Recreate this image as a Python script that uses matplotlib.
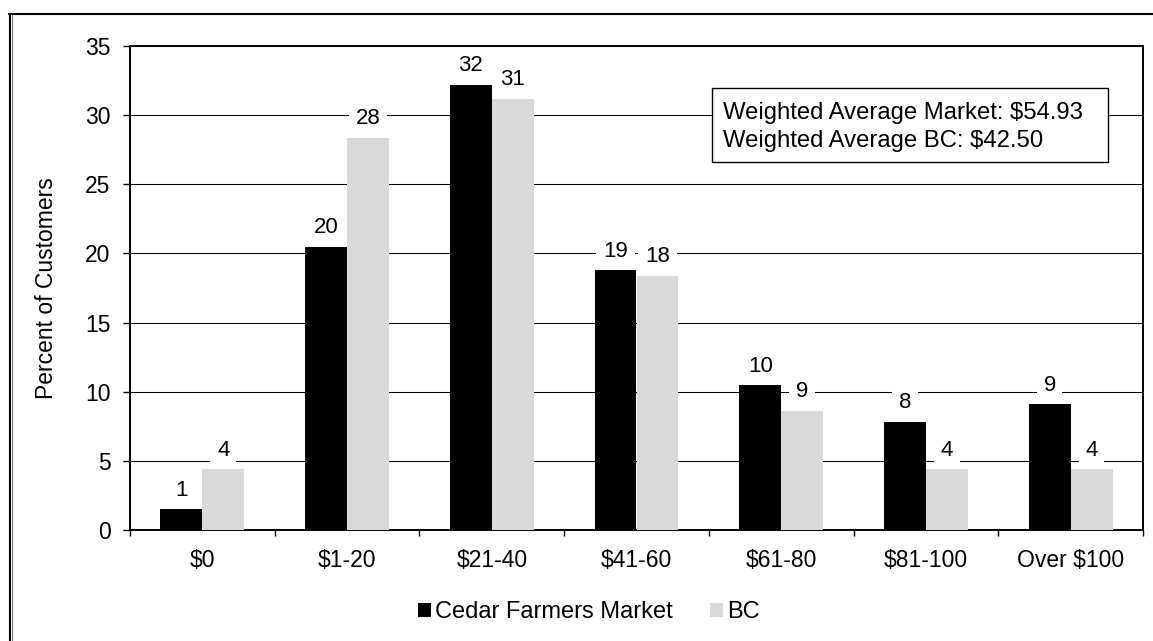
import matplotlib
matplotlib.use("Agg")
import matplotlib.pyplot as plt
from matplotlib.lines import Line2D
from matplotlib.patches import Rectangle
import numpy as np

plt.rcParams['font.family'] = ['Liberation Sans', 'DejaVu Sans']

categories = ['$0', '$1-20', '$21-40', '$41-60', '$61-80', '$81-100', 'Over $100']
cedar = [1.49, 20.49, 32.2, 18.8, 10.49, 7.83, 9.09]
bc = [4.41, 28.37, 31.2, 18.4, 8.63, 4.41, 4.41]
series_names = ['Cedar Farmers Market', 'BC']
yticks = [0, 5, 10, 15, 20, 25, 30, 35]
summary_lines = ['Weighted Average Market: $54.93', 'Weighted Average BC: $42.50']

W, H = 1153, 641
fig = plt.figure(figsize=(W / 100, H / 100), dpi=100)

# plot area in pixel terms
L, R, T, B = 130, 1143, 46, 530
ax = fig.add_axes([L / W, 1 - B / H, (R - L) / W, (B - T) / H])

fs = 16
x = np.arange(len(categories))
bw = 0.29
b1 = ax.bar(x - bw / 2, cedar, bw, color='black', label=series_names[0], zorder=3)
b2 = ax.bar(x + bw / 2, bc, bw, color='#d9d9d9', label=series_names[1], zorder=3)

ax.set_xlim(-0.5, len(categories) - 0.5)
ax.set_ylim(0, 35)
ax.set_yticks(yticks)
ax.set_yticklabels([str(t) for t in yticks], fontsize=16.5)
ax.yaxis.grid(True, color='black', linewidth=0.75, zorder=1)
ax.set_axisbelow(True)

# category separators as major ticks, labels on minor ticks
ax.set_xticks(np.arange(-0.5, len(categories), 1.0))
ax.set_xticklabels([])
ax.set_xticks(x, minor=True)
ax.set_xticklabels(categories, minor=True, fontsize=16.5)
ax.tick_params(axis='x', which='major', direction='out', length=4.5, width=1)
ax.tick_params(axis='x', which='minor', length=0, pad=14)
ax.tick_params(axis='y', direction='out', length=5, width=1, pad=9)

for s in ax.spines.values():
    s.set_linewidth(1.4)
    s.set_color('black')

# value labels
for bars, vals in ((b1, cedar), (b2, bc)):
    for rect, v in zip(bars, vals):
        ax.annotate(f"{v:.0f}", (rect.get_x() + rect.get_width() / 2, v),
                    xytext=(0, 6), textcoords='offset points',
                    ha='center', va='bottom', fontsize=fs, zorder=6,
                    annotation_clip=False,
                    bbox=dict(boxstyle='square,pad=0.3', fc='white', ec='none'))

fig.text(47 / W, 1 - 288 / H, 'Percent of Customers', rotation=90,
         ha='center', va='center', fontsize=16.5)

# summary box
def ax_frac(px, py):
    return (px - L) / (R - L), (B - py) / (B - T)

bx0, by1 = ax_frac(712, 162)
bx1, by0 = ax_frac(1108, 88)
ax.add_patch(Rectangle((bx0, by1), bx1 - bx0, by0 - by1, transform=ax.transAxes,
                       fc='white', ec='black', lw=1.0, zorder=5))
for line, py in zip(summary_lines, (118.5, 146.5)):
    tx, ty = ax_frac(723, py)
    ax.text(tx, ty, line, transform=ax.transAxes, ha='left', va='baseline',
            fontsize=17.2, zorder=6)

leg = fig.legend(handles=[b1, b2], labels=series_names, loc='center',
                 bbox_to_anchor=(589 / W, 1 - 612 / H), ncol=2, frameon=False,
                 fontsize=17, handlelength=0.55, handleheight=0.55,
                 handletextpad=0.15, columnspacing=1.6)

# outer frame (top and left edges)
fig.add_artist(Line2D([9 / W, 1], [1 - 13.7 / H] * 2, color='black', lw=1.5))
fig.add_artist(Line2D([9.5 / W] * 2, [0, 1 - 13.7 / H], color='black', lw=1.5))
fig.add_artist(Line2D([12 / W] * 2, [0, 1 - 15 / H], color='#777777', lw=0.8))

fig.savefig('out.png', dpi=100)
